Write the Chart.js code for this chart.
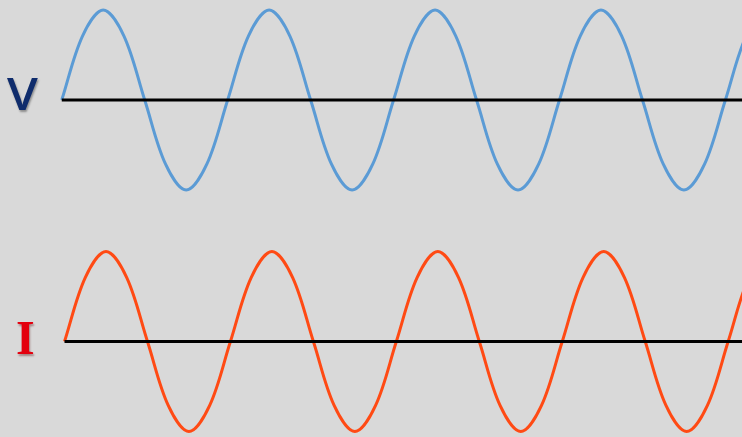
<!DOCTYPE html>
<html>
<head>
<meta charset="utf-8">
<script src="https://cdn.jsdelivr.net/npm/chart.js@4/dist/chart.umd.min.js"></script>
<style>
    html, body { margin: 0; padding: 0; background: #d9d9d9; }
    #wrap { position: relative; width: 742px; height: 437px; overflow: hidden; }
    #wrap canvas { position: absolute; left: 0; top: 0; }
    .lbl { position: absolute; line-height: 1; white-space: nowrap; }
    #lblV { left: 7px; top: 62px; font: 600 45px "Open Sans", sans-serif; color: #0f2c6c; text-shadow: 1px 2px 2px rgba(0,0,0,0.35); transform: scaleX(1.1); transform-origin: left top; }
    #lblI { left: 16px; top: 310px; font: bold 48px "Liberation Serif", serif; color: #e3000e; text-shadow: 1px 2px 2px rgba(80,0,0,0.4); }
</style>
</head>
<body>
<div id="wrap">
    <canvas id="waves" width="742" height="437"></canvas>
    <div class="lbl" id="lblV">V</div>
    <div class="lbl" id="lblI">I</div>
</div>
<script>
// phase angle in degrees, one sample every 45°
const phase = [0, 45, 90, 135, 180, 225, 270, 315,
               360, 405, 450, 495, 540, 585, 630, 675,
               720, 765, 810, 855, 900, 945, 990, 1035,
               1080, 1125, 1170, 1215, 1260, 1305, 1350, 1395,
               1440, 1485, 1530];

// voltage (normalised amplitude)
const voltage = [0, 0.71, 1, 0.71, 0, -0.71, -1, -0.71,
                 0, 0.71, 1, 0.71, 0, -0.71, -1, -0.71,
                 0, 0.71, 1, 0.71, 0, -0.71, -1, -0.71,
                 0, 0.71, 1, 0.71, 0, -0.71, -1, -0.71,
                 0, 0.71, 1];

// current, in phase with voltage
const current = [0, 0.71, 1, 0.71, 0, -0.71, -1, -0.71,
                 0, 0.71, 1, 0.71, 0, -0.71, -1, -0.71,
                 0, 0.71, 1, 0.71, 0, -0.71, -1, -0.71,
                 0, 0.71, 1, 0.71, 0, -0.71, -1, -0.71,
                 0, 0.71, 1];

// zero line from start of the wave to past the right edge
const axisSpan = [0, 1530];

const toPoints = (xs, ys) => xs.map((x, i) => ({ x, y: ys[i] }));

const ctx = document.getElementById('waves');
new Chart(ctx, {
    type: 'line',
    data: {
        datasets: [
            {
                data: axisSpan.map(x => ({ x, y: 0 })),
                xAxisID: 'xV', yAxisID: 'yV',
                borderColor: '#000', borderWidth: 3,
                pointRadius: 0, order: 0
            },
            {
                data: axisSpan.map(x => ({ x, y: 0 })),
                xAxisID: 'xI', yAxisID: 'yI',
                borderColor: '#000', borderWidth: 3,
                pointRadius: 0, order: 0
            },
            {
                label: 'V',
                data: toPoints(phase, voltage),
                xAxisID: 'xV', yAxisID: 'yV',
                borderColor: '#5b9bd5', borderWidth: 3,
                pointRadius: 0, tension: 0.34, order: 1
            },
            {
                label: 'I',
                data: toPoints(phase, current),
                xAxisID: 'xI', yAxisID: 'yI',
                borderColor: '#ff4a14', borderWidth: 3,
                pointRadius: 0, tension: 0.34, order: 1
            }
        ]
    },
    options: {
        responsive: false,
        animation: false,
        events: [],
        layout: { padding: 0 },
        scales: {
            xV: { type: 'linear', display: false, min: -134, max: 1476 },
            xI: { type: 'linear', display: false, min: -140, max: 1470 },
            yV: { type: 'linear', display: false, min: -3.744, max: 1.111 },
            yI: { type: 'linear', display: false, min: -1.061, max: 3.794 }
        },
        plugins: { legend: { display: false }, tooltip: { enabled: false } }
    }
});
</script>
</body>
</html>
